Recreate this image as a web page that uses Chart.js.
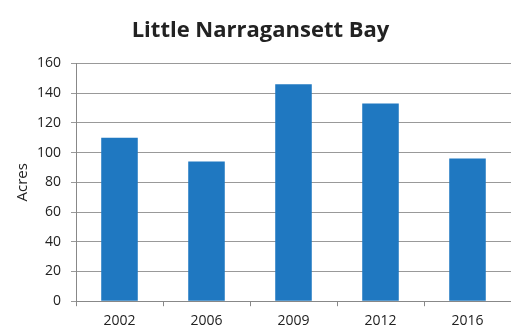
<!DOCTYPE html>
<html>
<head>
<meta charset="utf-8">
<script src="https://cdn.jsdelivr.net/npm/chart.js@4/dist/chart.umd.min.js"></script>
<style>
  html, body { margin: 0; padding: 0; background: #fff; }
  #wrap { width: 511px; height: 335px; }
</style>
</head>
<body>
<div id="wrap"><canvas id="c"></canvas></div>
<script>
const years = ['2002', '2006', '2009', '2012', '2016'];
const acres = [110, 94, 146, 133, 96];
const yTicks = [0, 20, 40, 60, 80, 100, 120, 140, 160];

new Chart(document.getElementById('c'), {
  type: 'bar',
  data: {
    labels: years,
    datasets: [{
      data: acres,
      backgroundColor: '#1f78c1',
      categoryPercentage: 1,
      barPercentage: 0.42
    }]
  },
  options: {
    responsive: true,
    maintainAspectRatio: false,
    animation: false,
    layout: { padding: { left: 10, right: 0, top: 18, bottom: 0 } },
    plugins: {
      legend: { display: false },
      tooltip: { enabled: false },
      title: {
        display: true,
        text: 'Little Narragansett Bay',
        color: '#222',
        font: { family: 'Open Sans', size: 22, weight: 'bold' },
        padding: { top: 0, bottom: 19 }
      }
    },
    scales: {
      x: {
        grid: { display: true, drawOnChartArea: false, offset: true, tickLength: 5, color: '#888' },
        border: { color: '#888' },
        ticks: { color: '#222', font: { family: 'Open Sans', size: 14 }, padding: 6 }
      },
      y: {
        min: 0,
        max: 160,
        afterBuildTicks: (axis) => { axis.ticks = yTicks.map(v => ({ value: v })); },
        afterFit: (axis) => { axis.width = 66; },
        grid: { color: '#999', tickLength: 5 },
        border: { color: '#888' },
        ticks: { color: '#222', font: { family: 'Open Sans', size: 14 }, padding: 10 },
        title: {
          display: true,
          text: 'Acres',
          color: '#222',
          font: { family: 'Open Sans', size: 15 },
          padding: { bottom: 0 }
        }
      }
    }
  }
});
</script>
</body>
</html>
